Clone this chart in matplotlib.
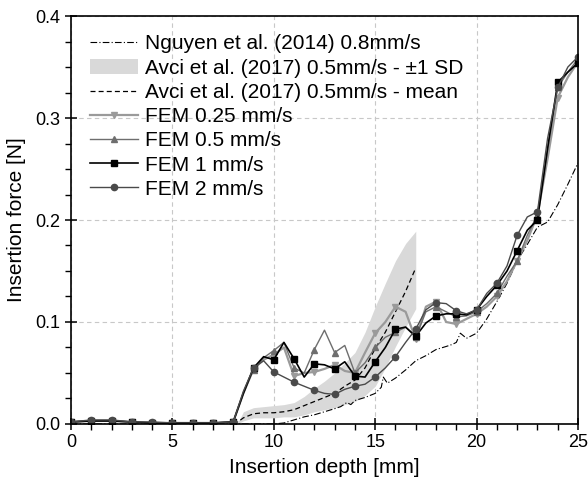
"""Insertion force vs depth: FEM speeds against Nguyen (2014) and Avci (2017) data."""

import matplotlib

matplotlib.use("Agg")

import matplotlib.pyplot as plt
from matplotlib.ticker import FormatStrFormatter, MultipleLocator

plt.rcParams["font.family"] = ["Liberation Sans", "DejaVu Sans"]

# --- data --------------------------------------------------------------------
fem_depth = [0, 1, 2, 3, 4, 5, 6, 7, 8, 8.5, 9, 9.5, 10, 10.5, 11, 11.5, 12,
             12.5, 13, 13.5, 14, 14.5, 15, 15.5, 16, 16.5, 17, 17.5, 18, 18.5,
             19, 19.5, 20, 20.5, 21, 21.5, 22, 22.5, 23, 23.5, 24, 24.5, 25]

fem_025 = [0.002, 0.003, 0.003, 0.002, 0.001, 0.001, 0.001, 0.001, 0.002,
           0.030, 0.054, 0.063, 0.068, 0.075, 0.047, 0.050, 0.051, 0.054,
           0.058, 0.052, 0.050, 0.070, 0.089, 0.100, 0.115, 0.110, 0.083,
           0.115, 0.120, 0.100, 0.098, 0.103, 0.108, 0.115, 0.125, 0.140,
           0.160, 0.180, 0.205, 0.260, 0.320, 0.340, 0.355]

fem_05 = [0.002, 0.003, 0.003, 0.002, 0.001, 0.001, 0.001, 0.001, 0.002,
          0.030, 0.053, 0.065, 0.072, 0.080, 0.055, 0.050, 0.073, 0.092,
          0.070, 0.077, 0.050, 0.060, 0.075, 0.085, 0.090, 0.095, 0.085,
          0.110, 0.115, 0.110, 0.105, 0.106, 0.110, 0.118, 0.128, 0.145,
          0.160, 0.185, 0.205, 0.270, 0.330, 0.345, 0.358]

fem_1 = [0.002, 0.003, 0.003, 0.002, 0.001, 0.001, 0.001, 0.001, 0.002,
         0.030, 0.055, 0.066, 0.063, 0.080, 0.064, 0.046, 0.059, 0.058,
         0.054, 0.061, 0.047, 0.046, 0.061, 0.075, 0.093, 0.095, 0.086,
         0.099, 0.106, 0.108, 0.108, 0.107, 0.112, 0.125, 0.136, 0.150,
         0.170, 0.190, 0.200, 0.270, 0.335, 0.345, 0.354]

fem_2 = [0.002, 0.004, 0.004, 0.002, 0.002, 0.001, 0.001, 0.001, 0.002,
         0.032, 0.055, 0.062, 0.051, 0.046, 0.041, 0.037, 0.033, 0.030,
         0.029, 0.034, 0.037, 0.039, 0.046, 0.055, 0.066, 0.080, 0.093,
         0.112, 0.119, 0.118, 0.111, 0.108, 0.112, 0.128, 0.138, 0.155,
         0.185, 0.203, 0.208, 0.280, 0.330, 0.350, 0.360]

avci_depth = [8.0, 8.3, 8.5, 9, 9.5, 10, 10.5, 11, 11.5, 12, 12.5, 13, 13.5,
              14, 14.5, 15, 15.5, 16, 16.5, 17]
avci_mean = [0.0, 0.003, 0.006, 0.010, 0.011, 0.011, 0.012, 0.014, 0.018,
             0.022, 0.026, 0.030, 0.037, 0.043, 0.055, 0.074, 0.090, 0.110,
             0.130, 0.153]
avci_upper = [0.0, 0.004, 0.012, 0.016, 0.017, 0.018, 0.019, 0.021, 0.027,
              0.035, 0.042, 0.050, 0.060, 0.070, 0.090, 0.115, 0.138, 0.160,
              0.177, 0.189]
avci_lower = [0.0, 0.001, 0.003, 0.006, 0.006, 0.006, 0.007, 0.007, 0.009,
              0.012, 0.014, 0.016, 0.019, 0.022, 0.028, 0.037, 0.055, 0.076,
              0.095, 0.113]

nguyen_depth = [0, 10.0, 10.5, 11, 11.5, 12, 12.5, 13, 13.3, 13.6, 13.8, 14,
                14.5, 15, 15.3, 15.4, 15.6, 16, 16.5, 17, 17.5, 18, 18.5, 18.8,
                19.0, 19.2, 19.5, 20, 20.5, 21, 21.5, 22, 22.5, 23, 23.5, 24,
                24.5, 25]
nguyen_force = [0.0, 0.0, 0.001, 0.004, 0.007, 0.009, 0.012, 0.015, 0.017,
                0.021, 0.019, 0.023, 0.026, 0.030, 0.036, 0.046, 0.040, 0.045,
                0.053, 0.062, 0.067, 0.073, 0.076, 0.078, 0.080, 0.089, 0.084,
                0.089, 0.103, 0.120, 0.138, 0.160, 0.176, 0.193, 0.198, 0.215,
                0.235, 0.256]


def main() -> None:
    fig = plt.figure(figsize=(5.88, 4.87), dpi=100)
    ax = fig.add_axes([0.1207, 0.1294, 0.8623, 0.8377])

    marks = [i for i, d in enumerate(fem_depth) if float(d).is_integer()]

    ax.plot(nguyen_depth, nguyen_force, color="black", lw=0.8,
            ls=(0, (6, 2, 1, 2)), label="Nguyen et al. (2014) 0.8mm/s")
    ax.fill_between(avci_depth, avci_lower, avci_upper, color="#d9d9d9",
                    lw=0, label="Avci et al. (2017) 0.5mm/s - \u00b11 SD")
    ax.plot(avci_depth, avci_mean, color="black", lw=0.9, ls=(0, (4, 2.5)),
            label="Avci et al. (2017) 0.5mm/s - mean")

    ax.plot(fem_depth, fem_025, color="#9a9a9a", lw=1.6, marker="v", ms=4.5,
            markevery=marks, label="FEM 0.25 mm/s")
    ax.plot(fem_depth, fem_05, color="#6e6e6e", lw=1.0, marker="^", ms=4.5,
            markevery=marks, label="FEM 0.5 mm/s")
    ax.plot(fem_depth, fem_1, color="black", lw=1.2, marker="s", ms=4.5,
            markevery=marks, label="FEM 1 mm/s")
    ax.plot(fem_depth, fem_2, color="#4a4a4a", lw=1.0, marker="o", ms=4.5,
            markevery=marks, label="FEM 2 mm/s")

    ax.set_xlim(0, 25)
    ax.set_ylim(0, 0.4)
    ax.xaxis.set_major_locator(MultipleLocator(5))
    ax.xaxis.set_minor_locator(MultipleLocator(1))
    ax.yaxis.set_major_locator(MultipleLocator(0.1))
    ax.yaxis.set_minor_locator(MultipleLocator(0.025))
    ax.yaxis.set_major_formatter(FormatStrFormatter("%.1f"))
    ax.tick_params(which="major", direction="inout", length=8, width=1.1,
                   labelsize=13, colors="black")
    ax.tick_params(which="minor", direction="out", length=4, width=1.0)
    ax.grid(which="major", color="#c8c8c8", ls=(0, (4, 3)), lw=0.8)
    ax.set_axisbelow(True)
    for spine in ax.spines.values():
        spine.set_linewidth(1.2)

    ax.set_xlabel("Insertion depth [mm]", fontsize=15, labelpad=5)
    ax.set_ylabel("Insertion force [N]", fontsize=15, labelpad=7)

    ax.legend(loc="upper left", bbox_to_anchor=(0.03, 0.965), frameon=False,
              fontsize=15, handlelength=2.3, handletextpad=0.3,
              labelspacing=0.25, borderaxespad=0.0, borderpad=0.2)

    fig.savefig("out.png", dpi=100)
    plt.close(fig)


if __name__ == "__main__":
    main()
